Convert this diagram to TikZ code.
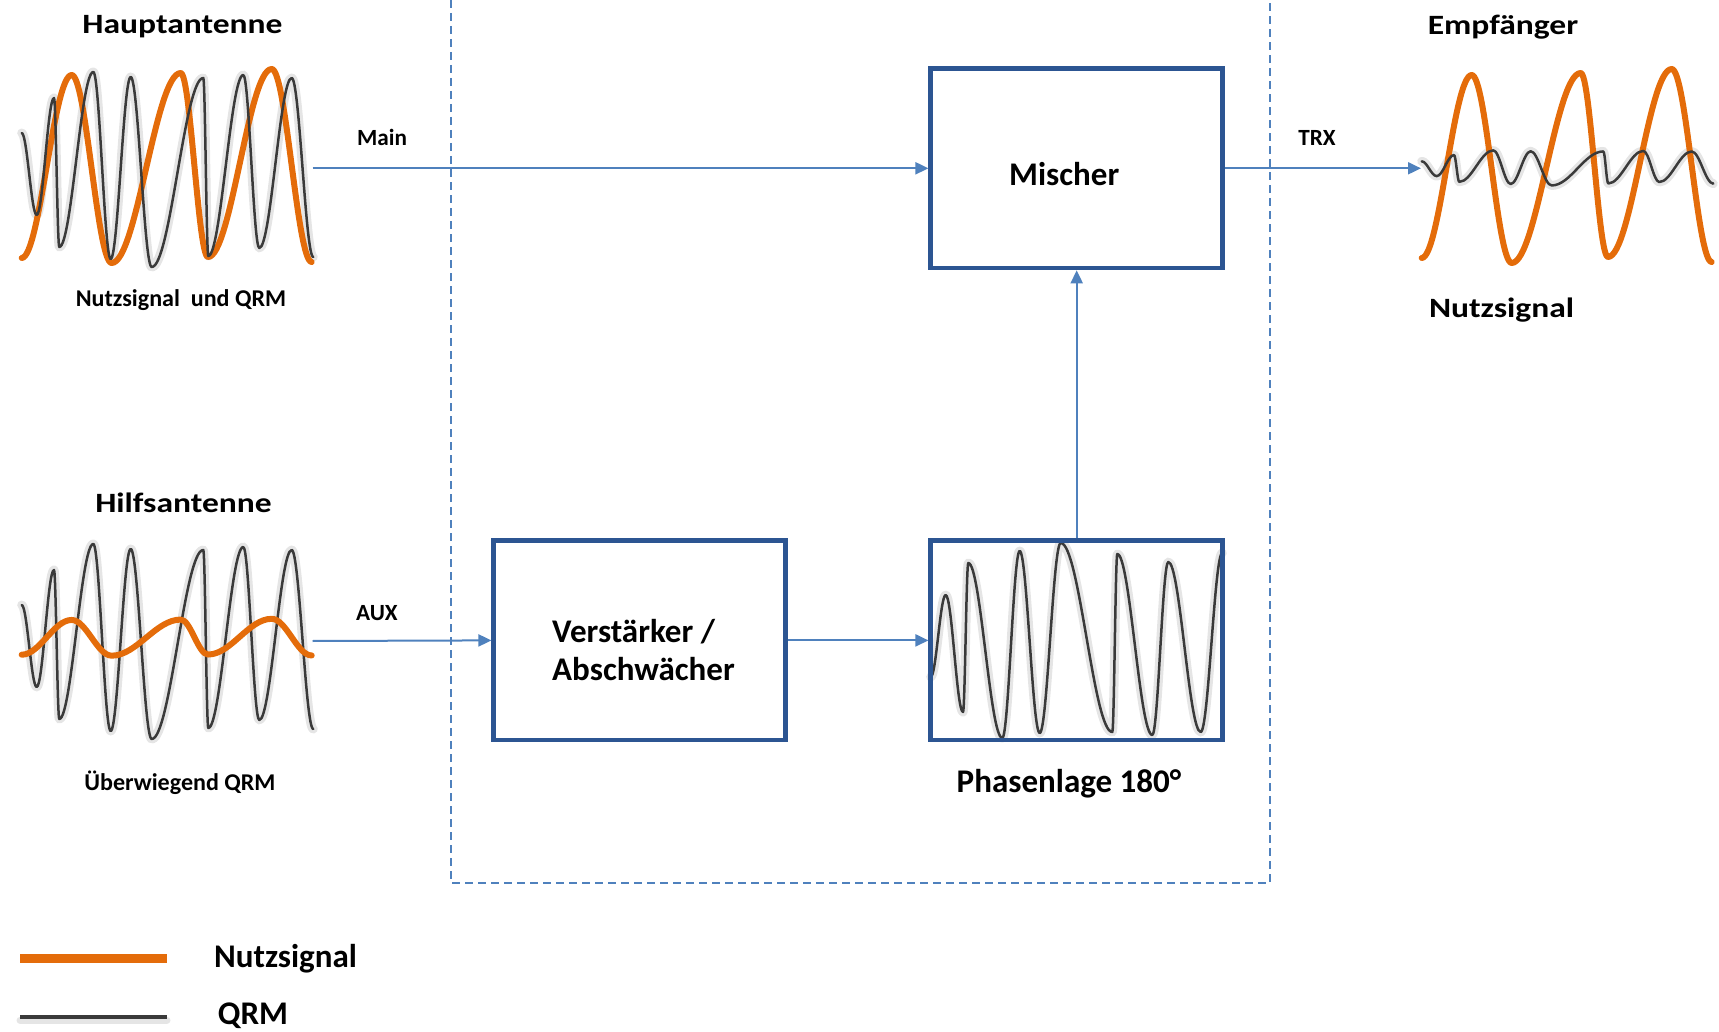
\documentclass[tikz,border=0pt]{standalone}
\usepackage{fontspec}
\setmainfont{Carlito}
\newfontfamily\widecarlito{Carlito}[FakeStretch=1.2]
\usetikzlibrary{arrows.meta}
\definecolor{nsorange}{HTML}{E46C0A}
\definecolor{qrmgray}{HTML}{3A3A3A}
\definecolor{boxblue}{HTML}{2C5592}
\definecolor{flowblue}{HTML}{4F81BD}
% wave shapes as extrema dx/dy (px), dy counted downwards from the centre line
\newcommand{\nutzlist}{50/-95, 90/93, 159/-97, 186.3/87, 250/-101, 290/92}
\newcommand{\qrmlist}{15/45, 32.3/-72, 37.6/77, 71.6/-98, 89/89, 109/-93, 130/97, 181.6/-92, 186.6/86, 221.6/-95, 237.6/78, 270/-92, 291.6/87}
\newcommand{\halfwaves}[2]{(0,#1) foreach \wx/\wy [remember=\wx as \lx (initially 0), remember=\wy as \ly (initially #1)] in #2 {cos ({(\lx+\wx)/2},{(\ly+\wy)/2}) sin (\wx,\wy)}}

\begin{document}
\begin{tikzpicture}[x=0.2mm, y=-0.2mm,
  font=\bfseries,
  blk/.style={draw=boxblue, line width=0.9mm, minimum width=58.4mm, minimum height=39.9mm, inner sep=0pt},
  boxtxt/.style={inner sep=0pt, font=\bfseries\fontsize{18.8}{21.6}\selectfont},
  hdr/.style={anchor=base, inner sep=0pt, font=\widecarlito\bfseries\fontsize{15.9}{19}\selectfont},
  capt/.style={anchor=base, inner sep=0pt, font=\bfseries\fontsize{13.7}{16}\selectfont},
  big/.style={anchor=base, inner sep=0pt, font=\bfseries\fontsize{18.8}{22}\selectfont},
  lbl/.style={inner sep=0pt, font=\bfseries\fontsize{13.2}{16}\selectfont},
  flow/.style={-{Triangle[length=2.6mm, width=2.4mm]}, line width=0.4mm, draw=flowblue},
  dframe/.style={draw=flowblue, line width=0.35mm, dash pattern=on 1.6mm off 1mm},
  nutz/.style={draw=nsorange, line width=1.2mm, line cap=round, line join=round},
  qrm/.style={draw=qrmgray, line width=0.5mm, line cap=round, line join=round},
  qrmshadow/.style={draw=black, opacity=0.1, line width=1.8mm, line cap=round, line join=round}
]
\useasboundingbox (0,0) rectangle (1719,1032);
% ================= dashed frame =================
\draw[dframe] (451,0) -- (451,883) -- (1270,883) -- (1270,0);
% ================= Hauptantenne =================
\begin{scope}[shift={(21.7,170)}]
  \draw[qrmshadow] \halfwaves{-37}{\qrmlist};
  \draw[nutz] \halfwaves{88}{\nutzlist};
  \draw[qrm] \halfwaves{-37}{\qrmlist};
\end{scope}
\node[hdr] (hant) at (182.5,34) {Hauptantenne};
\node[capt] (hcap) at (181,307) {Nutzsignal~ und QRM};
% ================= Hilfsantenne =================
\begin{scope}[shift={(21.7,642)}]
  \draw[qrmshadow] \halfwaves{-37}{\qrmlist};
  \draw[qrm] \halfwaves{-37}{\qrmlist};
\end{scope}
\begin{scope}[shift={(21.7,638)}, yscale=0.19]
  \draw[nutz] \halfwaves{88}{\nutzlist};
\end{scope}
\node[hdr] (aant) at (183.5,512) {Hilfsantenne};
\node[capt] (acap) at (180,790) {Überwiegend QRM};
% ================= Empfänger =================
\begin{scope}[shift={(1421.7,168)}, yscale=0.18]
  \draw[qrmshadow] \halfwaves{-37}{\qrmlist};
\end{scope}
\begin{scope}[shift={(1421.7,170)}]
  \draw[nutz] \halfwaves{88}{\nutzlist};
\end{scope}
\begin{scope}[shift={(1421.7,168)}, yscale=0.18]
  \draw[qrm] \halfwaves{-37}{\qrmlist};
\end{scope}
\node[hdr] (recv) at (1503,35) {Empfänger};
\node[hdr] (rcap) at (1501.5,318) {Nutzsignal};
% ================= phase shifted QRM =================
\begin{scope}[shift={(930.7,640)}, yscale=-1]
  \draw[qrmshadow] \halfwaves{-37}{\qrmlist};
  \draw[qrm] \halfwaves{-37}{\qrmlist};
\end{scope}
% ================= blocks =================
\node[blk, label={[boxtxt, xshift=-2.5mm, yshift=-1.1mm]center:Mischer}] (mix) at (1076.7,168.3) {};
\node[blk, label={[boxtxt, align=left, xshift=0.76mm, yshift=-1.86mm]center:Verstärker /\\Abschwächer}] (amp) at (639.7,640.4) {};
\node[blk] (phs) at (1076.7,640.4) {};
\node[big] (phtxt) at (1069,792) {Phasenlage 180°};
% ================= signal flow =================
\coordinate (mainout) at (312.5,168.3);
\coordinate (auxout) at (312.5,641);
\coordinate (trxin) at (1421,168.3);
\draw[flow] (mainout) -- node[lbl, pos=0.113, above=4.4mm]{Main} (mix.west);
\draw[flow] (auxout) -- node[lbl, pos=0.36, above=3.9mm]{AUX} (amp.west);
\draw[flow] (amp.east) -- (phs.west);
\draw[flow] (phs.north) -- (mix.south);
\draw[flow] (mix.east) -- node[lbl, pos=0.47, above=4.4mm]{TRX} (trxin);
% ================= legend =================
\draw[nutz, line width=1.8mm, line cap=butt] (20,958) -- (167,958);
\draw[qrmshadow, line width=1.4mm] (20,1020) -- (167,1020);
\draw[qrm, line width=0.8mm, line cap=butt] (20,1017) -- (167,1017);
\node[big] (lgnutz) at (285.5,967) {Nutzsignal};
\node[big] (lgqrm) at (253,1024) {QRM};
\end{tikzpicture}
\end{document}
